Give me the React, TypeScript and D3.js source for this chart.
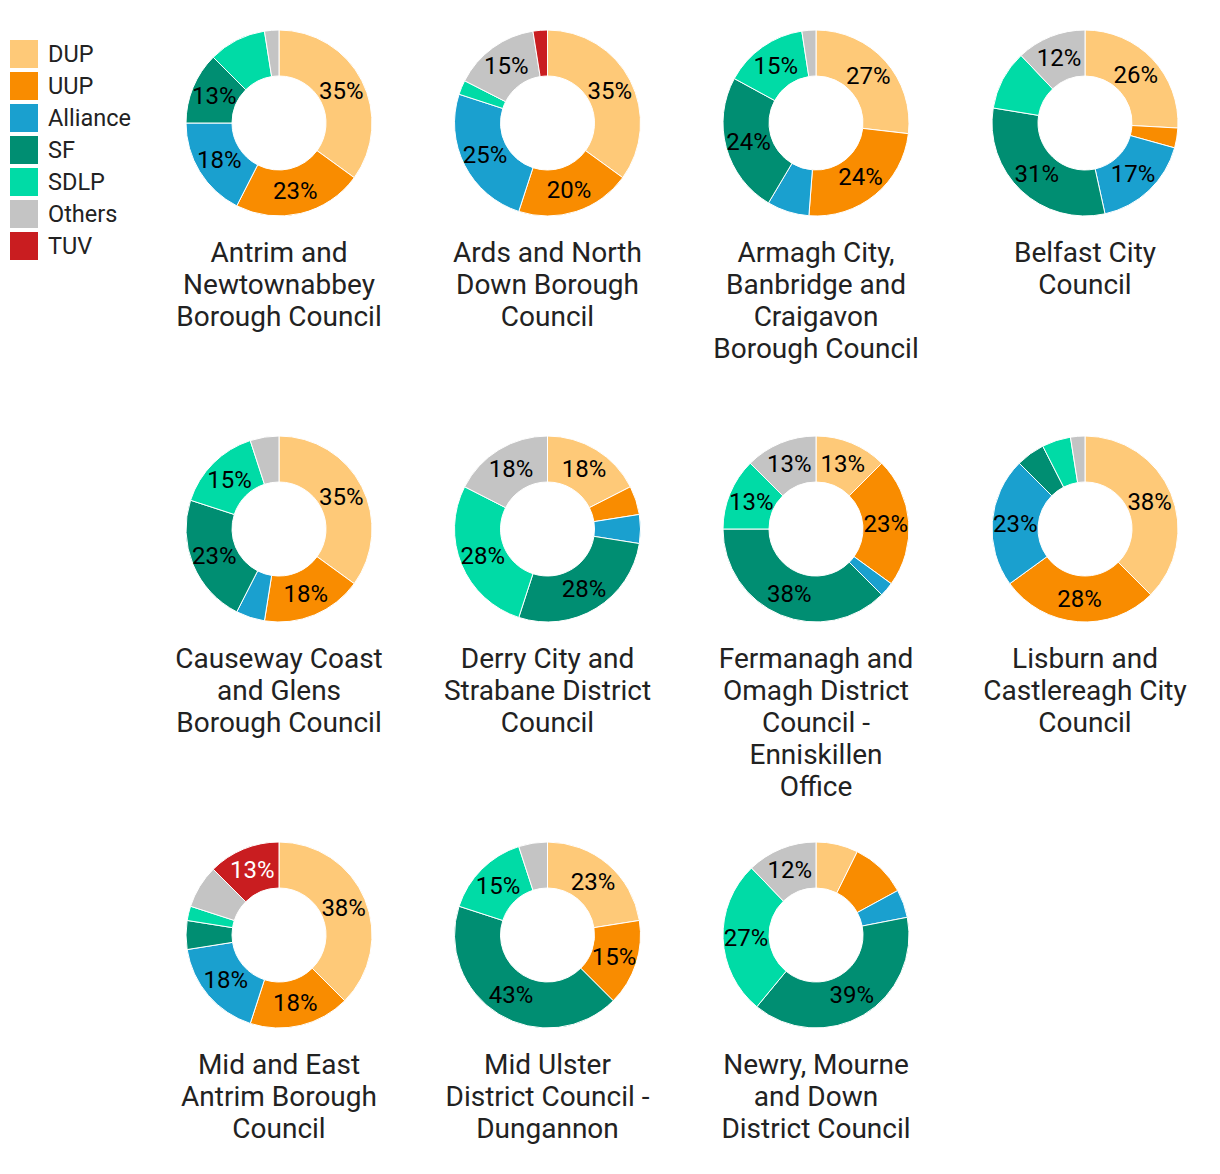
import React from "react";
import * as d3 from "d3";

const parties = ["DUP", "UUP", "Alliance", "SF", "SDLP", "Others", "TUV"];
const partyColors = ["#fec978", "#f98c00", "#1aa0cf", "#008e72", "#00dba6", "#c4c4c4", "#c91d20"];
const labelColors = ["#000", "#000", "#000", "#000", "#000", "#000", "#fff"];

const councils = [
  "Antrim and\nNewtownabbey\nBorough Council",
  "Ards and North\nDown Borough\nCouncil",
  "Armagh City,\nBanbridge and\nCraigavon\nBorough Council",
  "Belfast City\nCouncil",
  "Causeway Coast\nand Glens\nBorough Council",
  "Derry City and\nStrabane District\nCouncil",
  "Fermanagh and\nOmagh District\nCouncil -\nEnniskillen\nOffice",
  "Lisburn and\nCastlereagh City\nCouncil",
  "Mid and East\nAntrim Borough\nCouncil",
  "Mid Ulster\nDistrict Council -\nDungannon",
  "Newry, Mourne\nand Down\nDistrict Council",
];

// seats per party, one entry per council (same order as councils)
const dup = [14, 14, 11, 15, 14, 7, 5, 15, 15, 9, 3];
const uup = [9, 8, 10, 2, 7, 2, 9, 11, 7, 6, 4];
const alliance = [7, 10, 3, 10, 2, 2, 1, 9, 7, 0, 2];
const sf = [5, 0, 10, 18, 9, 11, 15, 2, 2, 17, 16];
const sdlp = [4, 1, 6, 6, 6, 11, 5, 2, 1, 6, 11];
const others = [1, 6, 1, 7, 2, 7, 5, 1, 3, 2, 5];
const tuv = [0, 1, 0, 0, 0, 0, 0, 0, 5, 0, 0];

const series = [dup, uup, alliance, sf, sdlp, others, tuv];

const W = 1220;
const H = 1174;
const OUTER = 93;
const INNER = 47;
const colX = [279, 547.5, 816, 1085];
const rowY = [123, 529, 935];
const FONT = "Roboto, 'Noto Sans', sans-serif";

export default function App() {
  const pie = d3
    .pie<{ party: number; value: number }>()
    .sort(null)
    .value((d) => d.value);
  const arc = d3.arc<d3.PieArcDatum<{ party: number; value: number }>>().innerRadius(INNER).outerRadius(OUTER);

  return (
    <svg
      width={W}
      height={H}
      style={{ position: "absolute", left: 0, top: 0, background: "#fff" }}
      fontFamily={FONT}
    >
      <g>
        {parties.map((p, i) => (
          <g key={p} transform={`translate(10,${40 + i * 32})`}>
            <rect width={28} height={28} fill={partyColors[i]} />
            <text x={38} y={14} dominantBaseline="central" fontSize={23.5} fill="#222">
              {p}
            </text>
          </g>
        ))}
      </g>
      {councils.map((name, ci) => {
        const cx = colX[ci % 4];
        const cy = rowY[Math.floor(ci / 4)];
        const data = series.map((s, pi) => ({ party: pi, value: s[ci] })).filter((d) => d.value > 0);
        const total = d3.sum(data, (d) => d.value);
        const arcs = pie(data);
        const lines = name.split("\n");
        return (
          <g key={ci} transform={`translate(${cx},${cy})`}>
            {arcs.map((a) => (
              <path key={a.data.party} d={arc(a) || ""} fill={partyColors[a.data.party]} stroke="#fff" strokeWidth={1} />
            ))}
            {arcs.map((a) => {
              const pct = a.data.value / total;
              if (pct < 0.11) return null;
              const [lx, ly] = arc.centroid(a);
              return (
                <text
                  key={"l" + a.data.party}
                  x={lx}
                  y={ly}
                  textAnchor="middle"
                  dominantBaseline="central"
                  fontSize={24}
                  fill={labelColors[a.data.party]}
                >
                  {Math.round(pct * 100)}%
                </text>
              );
            })}
            <text textAnchor="middle" fontSize={28} fill="#222">
              {lines.map((l, li) => (
                <tspan key={li} x={0} y={129 + li * 32} dominantBaseline="central">
                  {l}
                </tspan>
              ))}
            </text>
          </g>
        );
      })}
    </svg>
  );
}
